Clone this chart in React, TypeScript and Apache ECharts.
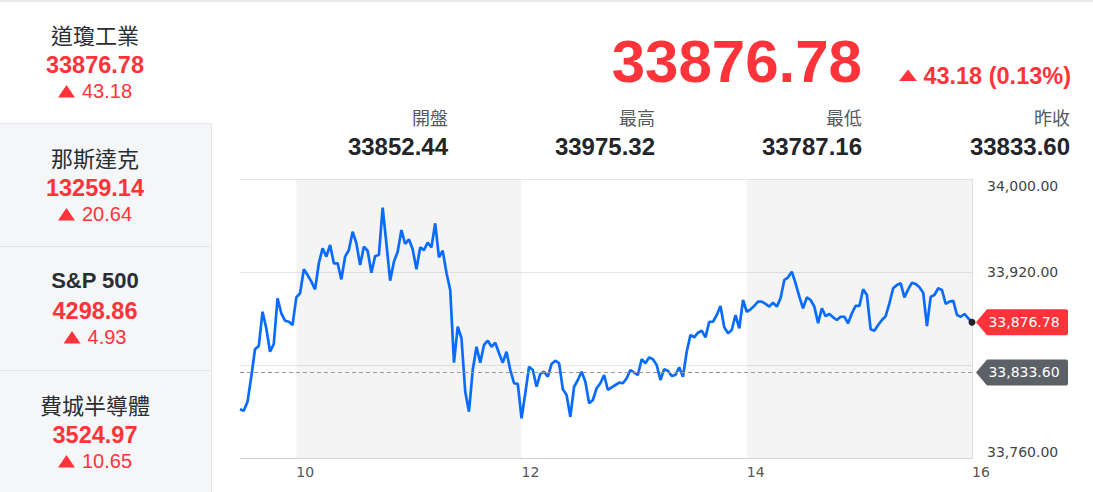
import React, { useEffect, useRef } from 'react';
import * as echarts from 'echarts';

// ---------- data ----------
const indexNames = ['道瓊工業', '那斯達克', 'S&P 500', '費城半導體'];
const indexValues = ['33876.78', '13259.14', '4298.86', '3524.97'];
const indexChanges = ['43.18', '20.64', '4.93', '10.65'];

const lastPriceText = '33876.78';
const changeText = '43.18 (0.13%)';
const statLabels = ['開盤', '最高', '最低', '昨收'];
const statValues = ['33852.44', '33975.32', '33787.16', '33833.60'];

const lastPrice = 33876.78;
const prevClose = 33833.6;

const yMin = 33760;
const yMax = 34000;
const yStep = 80;
const xMin = 9.5;
const xMax = 16;
const xLabelHours = [10, 12, 14, 16];
const shadedHours = [[10, 12], [14, 16]];

const stepMinutes = 2;
// 2-minute prices from 09:30 to 16:00
const prices = [
  33801.9, 33800.7, 33808.4, 33829.9, 33853.5, 33856.3, 33885.8, 33871.6, 33851.4, 33858.1,
  33897.4, 33884.5, 33878.1, 33877.2, 33874.4, 33898.2, 33901.7, 33922.3, 33917.4, 33911.7,
  33905.1, 33927.5, 33940.4, 33933.2, 33943.2, 33927.5, 33927.5, 33913.7, 33933.2, 33938.9,
  33954.7, 33944.7, 33926.0, 33941.8, 33938.3, 33919.4, 33933.8, 33934.6, 33975.3, 33944.7,
  33912.5, 33928.9, 33937.5, 33956.1, 33944.1, 33948.1, 33939.5, 33922.3, 33941.2, 33938.9,
  33945.2, 33941.2, 33961.9, 33932.6, 33938.3, 33919.4, 33904.5, 33842.0, 33872.9, 33863.0,
  33817.0, 33799.8, 33835.7, 33855.7, 33842.0, 33857.2, 33860.9, 33855.7, 33859.2, 33850.1,
  33842.0, 33851.4, 33835.7, 33824.3, 33823.7, 33794.2, 33815.7, 33838.5, 33835.7, 33821.3,
  33832.3, 33834.2, 33829.9, 33840.9, 33843.7, 33841.5, 33819.1, 33814.2, 33795.5, 33821.3,
  33827.1, 33834.2, 33825.6, 33807.1, 33809.9, 33820.0, 33824.3, 33831.4, 33818.5, 33820.8,
  33822.8, 33824.8, 33824.3, 33828.6, 33835.7, 33833.4, 33831.4, 33844.9, 33841.5, 33846.6,
  33844.9, 33840.0, 33827.1, 33836.3, 33835.1, 33830.5, 33831.4, 33838.0, 33829.9, 33851.4,
  33865.8, 33863.8, 33867.8, 33869.5, 33863.8, 33877.2, 33877.2, 33883.0, 33890.8, 33872.4,
  33867.3, 33870.1, 33883.0, 33871.6, 33895.9, 33885.8, 33887.9, 33890.8, 33894.5, 33894.5,
  33892.5, 33890.2, 33893.6, 33890.2, 33897.4, 33913.1, 33915.4, 33920.3, 33910.3, 33898.8,
  33888.8, 33898.2, 33895.9, 33890.2, 33875.9, 33888.8, 33882.1, 33883.9, 33881.0, 33878.7,
  33881.5, 33881.5, 33875.9, 33884.5, 33890.8, 33890.8, 33905.1, 33900.2, 33870.7, 33869.5,
  33874.4, 33878.7, 33882.1, 33893.1, 33906.0, 33908.8, 33910.3, 33898.2, 33905.1, 33910.8,
  33909.7, 33906.8, 33902.2, 33873.5, 33898.8, 33900.2, 33906.0, 33904.5, 33892.5, 33894.5,
  33895.3, 33883.0, 33881.5, 33883.9, 33880.2, 33876.78,
];

// ---------- styles ----------
const RED = '#ff333a';
const LATIN = '"Liberation Sans", "Noto Sans CJK TC", sans-serif';
const CJK = '"Noto Sans CJK TC", "Liberation Sans", sans-serif';
const AXISFONT = '"DejaVu Sans", sans-serif';

const fmt = (v: number) =>
  v.toLocaleString('en-US', { minimumFractionDigits: 2, maximumFractionDigits: 2 });

function measure(text: string, font: string): number {
  const c = document.createElement('canvas').getContext('2d');
  if (!c) return text.length * 11;
  c.font = font;
  return c.measureText(text).width;
}

function buildGraphics() {
  const g: any[] = [];
  // top page line
  g.push({ type: 'rect', shape: { x: 0, y: 0, width: 1093, height: 2 }, style: { fill: '#e6e8eb' }, silent: true });
  const tops = [0, 123, 246, 370];
  const bottoms = [123, 246, 370, 492];
  const cx = 95;
  indexNames.forEach((name, i) => {
    const top = tops[i];
    if (i > 0) {
      g.push({ type: 'rect', shape: { x: 0, y: top, width: 211, height: bottoms[i] - top }, style: { fill: '#f5f6f8' }, silent: true });
      g.push({ type: 'line', shape: { x1: 0, y1: top + 0.5, x2: 211, y2: top + 0.5 }, style: { stroke: '#e3e6ea', lineWidth: 1 }, silent: true });
    }
    const isLatin = /^[\x00-\x7f]+$/.test(name);
    g.push({
      type: 'text', x: cx, y: top + 34, silent: true,
      style: {
        text: name, fill: '#2a2e33', fontSize: 22,
        fontFamily: isLatin ? LATIN : CJK, fontWeight: isLatin ? 'bold' : 'normal',
        align: 'center', verticalAlign: 'middle',
      },
    });
    g.push({
      type: 'text', x: cx, y: top + 65, silent: true,
      style: {
        text: indexValues[i], fill: RED, fontSize: 23.5, fontFamily: LATIN, fontWeight: 'bold',
        align: 'center', verticalAlign: 'middle',
      },
    });
    const tw = measure(indexChanges[i], '20px "Liberation Sans"');
    const total = 17 + 7 + tw;
    const sx = cx - total / 2;
    const ry = top + 91;
    g.push({
      type: 'polygon', silent: true,
      shape: { points: [[sx, ry + 6.5], [sx + 8.5, ry - 6], [sx + 17, ry + 6.5]] },
      style: { fill: RED },
    });
    g.push({
      type: 'text', x: sx + 24, y: ry, silent: true,
      style: { text: indexChanges[i], fill: RED, fontSize: 20, fontFamily: LATIN, align: 'left', verticalAlign: 'middle' },
    });
  });
  g.push({ type: 'line', shape: { x1: 211.5, y1: 123, x2: 211.5, y2: 492 }, style: { stroke: '#e3e6ea', lineWidth: 1 }, silent: true });

  // header
  g.push({
    type: 'text', x: 862, y: 61, silent: true,
    style: { text: lastPriceText, fill: RED, fontSize: 60, fontFamily: LATIN, fontWeight: 'bold', align: 'right', verticalAlign: 'middle' },
  });
  g.push({
    type: 'polygon', silent: true,
    shape: { points: [[899, 81], [908, 69.5], [917, 81]] },
    style: { fill: RED },
  });
  g.push({
    type: 'text', x: 1071, y: 75.5, silent: true,
    style: { text: changeText, fill: RED, fontSize: 23.5, fontFamily: LATIN, fontWeight: 'bold', align: 'right', verticalAlign: 'middle' },
  });
  const rights = [448, 655, 862, 1070];
  statLabels.forEach((lab, i) => {
    g.push({
      type: 'text', x: rights[i], y: 117, silent: true,
      style: { text: lab, fill: '#555a60', fontSize: 18, fontFamily: CJK, align: 'right', verticalAlign: 'middle' },
    });
    g.push({
      type: 'text', x: rights[i], y: 146.5, silent: true,
      style: { text: statValues[i], fill: '#222529', fontSize: 24, fontFamily: LATIN, fontWeight: 'bold', align: 'right', verticalAlign: 'middle' },
    });
  });
  return g;
}

const TAG_PATH = 'path://M0,13L11,0L90,0Q92,0,92,2L92,24Q92,26,90,26L11,26Z';

export default function App() {
  const ref = useRef<HTMLDivElement>(null);
  useEffect(() => {
    if (!ref.current) return;
    const chart = echarts.init(ref.current, undefined, { renderer: 'svg' });
    const seriesData = prices.map((p, i) => [xMin + (i * stepMinutes) / 60, p]);
    const axisLabelBase = { fontFamily: AXISFONT, fontSize: 14, color: '#444' };
    chart.setOption({
      animation: false,
      backgroundColor: '#ffffff',
      grid: { left: 240, right: 121, top: 179, bottom: 34, containLabel: false },
      xAxis: {
        type: 'value', min: xMin, max: xMax, interval: 0.5,
        splitLine: { show: false },
        axisLine: { show: true, lineStyle: { color: '#cfd2d6', width: 1 } },
        axisTick: { show: false },
        axisLabel: {
          showMinLabel: true, showMaxLabel: true, align: 'left', margin: 7,
          fontFamily: AXISFONT, fontSize: 14, color: '#555',
          formatter: (v: number) => (xLabelHours.includes(v) ? String(v) : ''),
        },
      },
      yAxis: {
        type: 'value', position: 'right', min: yMin, max: yMax, interval: yStep,
        splitLine: { show: true, lineStyle: { color: '#e8e9eb', width: 1 } },
        axisLine: { show: true, lineStyle: { color: '#dcdfe3', width: 1 } },
        axisTick: { show: false },
        axisLabel: {
          margin: 15, ...axisLabelBase,
          formatter: (v: number) => {
            if (v === yMax) return '{top|' + fmt(v) + '}';
            if (v === yMin) return '{bot|' + fmt(v) + '}';
            if (Math.abs(v - prevClose) < 10) return '';
            return fmt(v);
          },
          rich: {
            top: { ...axisLabelBase, padding: [14, 0, 0, 0] },
            bot: { ...axisLabelBase, padding: [0, 0, 12, 0] },
          },
        },
      },
      series: [
        {
          type: 'line',
          data: seriesData,
          showSymbol: false,
          clip: false,
          lineStyle: { color: '#0a6cff', width: 2.7 },
          itemStyle: { color: '#0a6cff' },
          markArea: {
            silent: true,
            itemStyle: { color: 'rgba(0,0,0,0.045)' },
            data: shadedHours.map(([a, b]) => [{ xAxis: a }, { xAxis: b }]),
          },
          markLine: {
            silent: true,
            symbol: 'none',
            label: { show: false },
            lineStyle: { color: '#9a9a9a', type: [4, 3], width: 1 },
            data: [{ yAxis: prevClose }],
          },
          markPoint: {
            silent: true,
            data: [
              {
                coord: [xMax, lastPrice], symbol: TAG_PATH, symbolSize: [92, 26], symbolOffset: [50, 0],
                itemStyle: { color: RED },
                label: { show: true, position: 'inside', offset: [2, 0], formatter: fmt(lastPrice), color: '#fff', fontFamily: AXISFONT, fontSize: 14 },
              },
              {
                coord: [xMax, prevClose], symbol: TAG_PATH, symbolSize: [92, 26], symbolOffset: [50, 0],
                itemStyle: { color: '#5b6167' },
                label: { show: true, position: 'inside', offset: [2, 0], formatter: fmt(prevClose), color: '#fff', fontFamily: AXISFONT, fontSize: 14 },
              },
              {
                coord: [xMax, lastPrice], symbol: 'circle', symbolSize: 7,
                itemStyle: { color: '#222' },
                label: { show: false },
              },
            ],
          },
        },
      ],
      graphic: buildGraphics(),
    });
    return () => chart.dispose();
  }, []);
  return (
    <div style={{ position: 'fixed', left: 0, top: 0, width: 1093, height: 492, background: '#fff' }}>
      <div ref={ref} style={{ width: 1093, height: 492 }} />
    </div>
  );
}
